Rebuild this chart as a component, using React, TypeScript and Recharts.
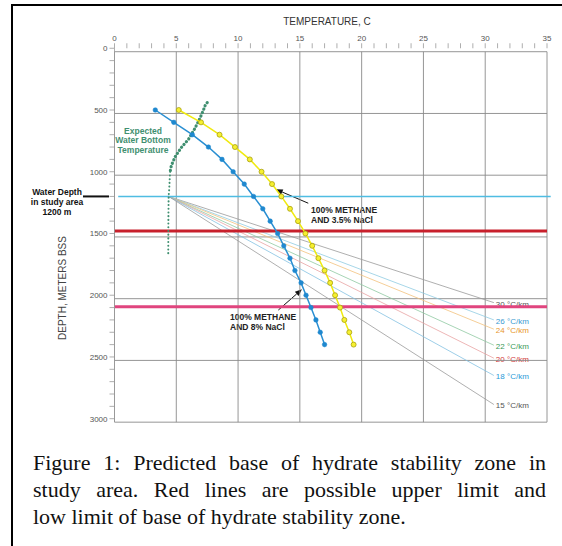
import React from 'react';
import { LineChart, Line, XAxis, YAxis, ReferenceLine } from 'recharts';

// ---- data ----
const tempTicks = [0, 1, 2, 3, 4, 5, 6, 7, 8, 9, 10, 11, 12, 13, 14, 15, 16, 17, 18, 19, 20, 21, 22, 23, 24, 25, 26, 27, 28, 29, 30, 31, 32, 33, 34, 35];
const depthTicks = [0, 100, 200, 300, 400, 500, 600, 700, 800, 900, 1000, 1100, 1200, 1300, 1400, 1500, 1600, 1700, 1800, 1900, 2000, 2100, 2200, 2300, 2400, 2500, 2600, 2700, 2800, 2900, 3000];
const gridTemps = [0, 5, 10, 15, 20, 25, 30, 35];
const gridDepths = [0, 500, 1000, 1500, 2000, 2500, 3000];

// hydrate curves: depth (m) vs temperature (C)
const curveDepths = [500, 600, 700, 800, 900, 1000, 1100, 1200, 1300, 1400, 1500, 1600, 1700, 1800, 1900, 2000, 2100, 2200, 2300, 2400];
const nacl8Temps = [3.3, 4.8, 6.3, 7.6, 8.7, 9.6, 10.5, 11.25, 12.0, 12.6, 13.2, 13.7, 14.2, 14.6, 15.1, 15.5, 15.9, 16.3, 16.65, 17.0];
const nacl35Temps = [5.2, 7.0, 8.5, 9.75, 10.95, 11.9, 12.75, 13.5, 14.2, 14.85, 15.45, 16.0, 16.5, 17.0, 17.45, 17.85, 18.25, 18.6, 19.0, 19.35];

// expected water bottom temperature
const bottomTempUpper = [
  { t: 7.5, d: 440 }, { t: 7.35, d: 460 }, { t: 7.2, d: 500 }, { t: 6.9, d: 570 }, { t: 6.5, d: 650 },
  { t: 6.0, d: 735 }, { t: 5.4, d: 805 }, { t: 4.9, d: 880 }, { t: 4.6, d: 950 }, { t: 4.5, d: 1000 },
];
const bottomTempLower = [
  { t: 4.5, d: 1000 }, { t: 4.42, d: 1150 }, { t: 4.38, d: 1200 }, { t: 4.36, d: 1400 }, { t: 4.35, d: 1660 },
];

// geothermal gradients from sea floor at 1200 m
const gradStart = { t: 4.38, d: 1200 };
const gradNames = ['30 °C/km', '26 °C/km', '24 °C/km', '22 °C/km', '20 °C/km', '18 °C/km', '15 °C/km'];
const gradEndTemp = 30.7;
const gradEndDepths = [2060, 2200, 2275, 2405, 2510, 2650, 2885];
const gradLineColors = ['#9a9a9a', '#8fcbe2', '#f2c27c', '#8fc9a2', '#e8a3a3', '#84c2e2', '#9a9a9a'];
const gradTextColors = ['#555555', '#3a9ad2', '#e8962c', '#3a9a5a', '#d23a3a', '#2a9ad8', '#555555'];

const waterDepth = 1200;
const upperLimit = 1480;
const lowerLimit = 2093;

const captionLines = [
  'Figure 1: Predicted base of hydrate stability zone in',
  'study area. Red lines are possible upper limit and',
  'low limit of base of hydrate stability zone.',
];

const nacl8 = curveDepths.map((d, i) => ({ t: nacl8Temps[i], d }));
const nacl35 = curveDepths.map((d, i) => ({ t: nacl35Temps[i], d }));

// ---- layout ----
const W = 562;
const H = 546;
const CHART_H = 430;
const PLOT = { left: 114.5, right: 547, top: 48.26, bottom: 418.7 };
const T_MAX = 35;
const D_MAX = 3000;
const GRID_SHIFT = 28; // grid in the original sits slightly below the tick marks
const SANS = '"Liberation Sans", Arial, sans-serif';

const px = (t: number) => PLOT.left + (t / T_MAX) * (PLOT.right - PLOT.left);
const py = (d: number) => PLOT.top + (d / D_MAX) * (PLOT.bottom - PLOT.top);

const XTick = (props: any) => {
  const { x, y, payload } = props;
  if (payload.value % 5 !== 0) return <g />;
  return (
    <text x={x} y={y} textAnchor="middle" fontSize={8} fill="#555" fontFamily={SANS}>
      {payload.value}
    </text>
  );
};

const YTick = (props: any) => {
  const { x, y, payload } = props;
  if (payload.value % 500 !== 0) return <g />;
  return (
    <text x={x} y={y} dy={3} textAnchor="end" fontSize={8} fill="#555" fontFamily={SANS}>
      {payload.value}
    </text>
  );
};

const Arrow = ({ x1, y1, x2, y2 }: { x1: number; y1: number; x2: number; y2: number }) => {
  const a = Math.atan2(y2 - y1, x2 - x1);
  const L = 7;
  const w = 2.8;
  const bx = x2 - L * Math.cos(a);
  const by = y2 - L * Math.sin(a);
  const p1 = `${bx + w * Math.sin(a)},${by - w * Math.cos(a)}`;
  const p2 = `${bx - w * Math.sin(a)},${by + w * Math.cos(a)}`;
  return (
    <g>
      <line x1={x1} y1={y1} x2={bx} y2={by} stroke="#111" strokeWidth={1} />
      <polygon points={`${x2},${y2} ${p1} ${p2}`} fill="#111" />
    </g>
  );
};

const Annotations = () => (
  <g fontFamily={SANS}>
    <text x={327} y={25} textAnchor="middle" fontSize={10} fill="#333">TEMPERATURE, C</text>
    <text x={66} y={288} textAnchor="middle" fontSize={10} fill="#444" transform="rotate(-90 66 288)">
      DEPTH, METERS BSS
    </text>

    <g fontSize={8.5} fontWeight="bold" fill="#111" textAnchor="middle">
      <text x={57} y={195}>Water Depth</text>
      <text x={57} y={205}>in study area</text>
      <text x={57} y={215}>1200 m</text>
    </g>
    <line x1={83} y1={py(waterDepth)} x2={109} y2={py(waterDepth)} stroke="#111" strokeWidth={2} />

    <g fontSize={8.5} fontWeight="bold" fill="#3f8f70" textAnchor="middle">
      <text x={143} y={134}>Expected</text>
      <text x={143} y={143}>Water Bottom</text>
      <text x={143} y={152.5}>Temperature</text>
    </g>

    <g fontSize={8.5} fontWeight="bold" fill="#222">
      <text x={311} y={213}>100% METHANE</text>
      <text x={311} y={223}>AND 3.5% NaCl</text>
      <text x={230} y={320}>100% METHANE</text>
      <text x={230} y={330}>AND 8% NaCl</text>
    </g>
    <Arrow x1={px(15.68)} y1={py(1255)} x2={px(13.05)} y2={py(1142)} />
    <Arrow x1={px(13.26)} y1={py(2120)} x2={px(15.17)} y2={py(1952)} />

    <g fontSize={8}>
      {gradNames.map((n, i) => (
        <text key={n} x={px(gradEndTemp) + 2} y={py(gradEndDepths[i]) + 4} fill={gradTextColors[i]}>
          {n}
        </text>
      ))}
    </g>
  </g>
);

export default function App() {
  return (
    <div style={{ position: 'absolute', left: 0, top: 0, width: W, height: H, background: '#fff', overflow: 'hidden' }}>
      <div style={{ position: 'absolute', left: 11, top: 4, width: 2, height: H - 4, background: '#000' }} />
      <div style={{ position: 'absolute', left: 11, top: 4, width: W - 11, height: 2, background: '#000' }} />

      <div style={{ position: 'absolute', left: 0, top: 0 }}>
        <LineChart
          width={W}
          height={CHART_H}
          margin={{ top: PLOT.top - 20, left: PLOT.left - 50, right: W - PLOT.right, bottom: CHART_H - PLOT.bottom }}
        >
          <XAxis
            xAxisId={0}
            type="number"
            dataKey="t"
            orientation="top"
            domain={[0, T_MAX]}
            ticks={tempTicks}
            interval={0}
            height={20}
            tickSize={5}
            tickMargin={2}
            axisLine={false}
            tickLine={{ stroke: '#999', strokeWidth: 0.8 }}
            tick={XTick}
            allowDataOverflow
          />
          <YAxis
            yAxisId={0}
            type="number"
            dataKey="d"
            reversed
            domain={[0, D_MAX]}
            ticks={depthTicks}
            interval={0}
            width={50}
            tickSize={5}
            tickMargin={2}
            axisLine={{ stroke: '#999', strokeWidth: 0.8 }}
            tickLine={{ stroke: '#999', strokeWidth: 0.8 }}
            tick={YTick}
            allowDataOverflow
          />

          {gridTemps.map((t) => (
            <ReferenceLine
              key={'gx' + t}
              segment={[{ x: t, y: GRID_SHIFT }, { x: t, y: D_MAX + GRID_SHIFT }]}
              stroke="#8a8a8a"
              strokeWidth={0.9}
              ifOverflow="visible"
            />
          ))}
          {gridDepths.map((d) => (
            <ReferenceLine
              key={'gy' + d}
              segment={[{ x: 0, y: d + GRID_SHIFT }, { x: T_MAX, y: d + GRID_SHIFT }]}
              stroke="#8a8a8a"
              strokeWidth={0.9}
              ifOverflow="visible"
            />
          ))}

          {gradEndDepths.map((d, i) => (
            <Line
              key={gradNames[i]}
              data={[gradStart, { t: gradEndTemp, d }]}
              dataKey="d"
              stroke={gradLineColors[i]}
              strokeWidth={0.8}
              dot={false}
              isAnimationActive={false}
            />
          ))}

          <ReferenceLine
            segment={[{ x: 0.3, y: waterDepth }, { x: 35.3, y: waterDepth }]}
            stroke="#4fbde2"
            strokeWidth={1.5}
            ifOverflow="visible"
          />
          <ReferenceLine y={upperLimit} stroke="#c8202c" strokeWidth={3} ifOverflow="visible" />
          <ReferenceLine y={lowerLimit} stroke="#e0457e" strokeWidth={3} ifOverflow="visible" />

          <Line
            data={bottomTempUpper}
            dataKey="d"
            stroke="#3f8f70"
            strokeWidth={3.2}
            strokeDasharray="0.1 3.6"
            strokeLinecap="round"
            dot={false}
            isAnimationActive={false}
          />
          <Line
            data={bottomTempLower}
            dataKey="d"
            stroke="#3f8f70"
            strokeWidth={2}
            strokeDasharray="0.1 3.6"
            strokeLinecap="round"
            dot={false}
            isAnimationActive={false}
          />
          <Line
            data={nacl8}
            dataKey="d"
            stroke="#2a8fd2"
            strokeWidth={1.5}
            dot={{ r: 2.3, fill: '#1f88cf', stroke: '#1f88cf', strokeWidth: 0.5 }}
            isAnimationActive={false}
          />
          <Line
            data={nacl35}
            dataKey="d"
            stroke="#f0ea10"
            strokeWidth={1.5}
            dot={{ r: 2.5, fill: '#f6f030', stroke: '#a8a010', strokeWidth: 0.8 }}
            isAnimationActive={false}
          />

          <Annotations />
        </LineChart>
      </div>

      <div
        style={{
          position: 'absolute',
          left: 33,
          top: 449,
          width: 513,
          fontFamily: '"Liberation Serif", "Times New Roman", serif',
          fontSize: 22,
          lineHeight: '27px',
          color: '#111',
        }}
      >
        {captionLines.map((line, i) => (
          <div
            key={i}
            style={{
              textAlign: 'justify',
              textAlignLast: i < captionLines.length - 1 ? 'justify' : 'left',
              whiteSpace: 'nowrap',
            }}
          >
            {line}
          </div>
        ))}
      </div>
    </div>
  );
}
